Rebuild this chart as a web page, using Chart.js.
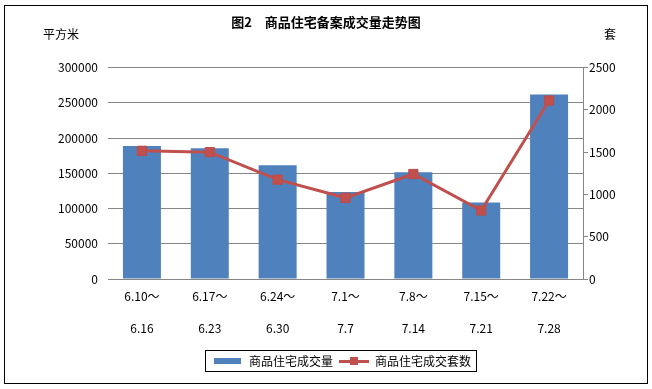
<!DOCTYPE html>
<html>
<head>
<meta charset="utf-8">
<script src="https://cdn.jsdelivr.net/npm/chart.js@4"></script>
<style>
body { margin: 0; background: #fff; }
</style>
</head>
<body>
<canvas id="trendChart" width="652" height="389"></canvas>
<script>
const weekStarts = ["6.10～", "6.17～", "6.24～", "7.1～", "7.8～", "7.15～", "7.22～"]
const weekEnds = ["6.16", "6.23", "6.30", "7.7", "7.14", "7.21", "7.28"]
const areaSold = [188600, 185700, 161400, 123300, 151400, 108600, 261900]
const unitsSold = [1516, 1500, 1175, 960, 1242, 810, 2111]

const blue = "#4F81BD"
const red = "#C0504D"
const gridGray = "#868686"
const cjk = "'Noto Sans CJK SC', 'Noto Sans', sans-serif"

// little legend swatches, drawn like the Excel ones
function makeSwatch(w, h, draw) {
	const c = document.createElement("canvas")
	c.width = w
	c.height = h
	draw(c.getContext("2d"))
	return c
}
const barSwatch = makeSwatch(27, 6, g => {
	g.fillStyle = blue
	g.fillRect(0, 0, 27, 6)
})
const lineSwatch = makeSwatch(30, 10, g => {
	g.fillStyle = red
	g.fillRect(0, 4, 30, 3)
	g.fillRect(11, 1, 8, 8)
})

const frame = {
	id: "frame",
	afterLayout(chart) {
		// the legend sits a bit right of centre in the original
		chart.legend.left += 16
		chart.legend.right += 16
	},
	afterDraw(chart) {
		const ctx = chart.ctx
		const area = chart.chartArea
		ctx.save()
		ctx.strokeStyle = "#000"
		ctx.lineWidth = 1
		ctx.strokeRect(4.5, 5.5, 643, 378)

		// axis unit labels above the two value axes
		ctx.fillStyle = "#000"
		ctx.font = "12px " + cjk
		ctx.textAlign = "center"
		ctx.textBaseline = "middle"
		ctx.fillText("平方米", area.left - 47, area.top - 33)
		ctx.fillText("套", area.right + 27, area.top - 33)

		// box round the legend
		const boxes = chart.legend.legendHitBoxes
		if (boxes && boxes.length) {
			const first = boxes[0]
			const last = boxes[boxes.length - 1]
			const cy = first.top + first.height / 2
			const x0 = Math.round(first.left) - 7.5
			const x1 = Math.round(last.left + last.width) + 5.5
			ctx.strokeRect(x0, Math.round(cy) - 10.5, x1 - x0, 21)
		}
		ctx.restore()
	}
}

new Chart(document.getElementById("trendChart"), {
	data: {
		labels: weekStarts.map((s, i) => [s, weekEnds[i]]),
		datasets: [
			{
				type: "line",
				label: "商品住宅成交套数",
				data: unitsSold,
				yAxisID: "y1",
				borderColor: red,
				backgroundColor: red,
				borderWidth: 3,
				pointStyle: "rect",
				pointRadius: 6.5,
				pointBackgroundColor: red,
				pointBorderColor: "#BE4B48",
				pointBorderWidth: 1,
				tension: 0,
				order: 0,
			},
			{
				type: "bar",
				label: "商品住宅成交量",
				data: areaSold,
				yAxisID: "y",
				backgroundColor: blue,
				categoryPercentage: 1,
				barPercentage: 0.56,
				order: 1,
			},
		],
	},
	options: {
		responsive: false,
		animation: false,
		devicePixelRatio: 1,
		layout: { padding: { left: 0, right: 0, top: 0, bottom: 12 } },
		plugins: {
			tooltip: { enabled: false },
			title: {
				display: true,
				text: "图2　商品住宅备案成交量走势图",
				color: "#000",
				font: { family: cjk, size: 13, weight: "bold", lineHeight: 1.2 },
				padding: { top: 14, bottom: 38 },
			},
			legend: {
				position: "bottom",
				labels: {
					usePointStyle: true,
					pointStyleWidth: 30,
					padding: 6,
					color: "#000",
					font: { family: cjk, size: 12 },
					generateLabels: () => [
						{ text: "商品住宅成交量", pointStyle: barSwatch, fillStyle: blue, strokeStyle: blue, lineWidth: 0, datasetIndex: 1, fontColor: "#000" },
						{ text: "商品住宅成交套数", pointStyle: lineSwatch, fillStyle: red, strokeStyle: red, lineWidth: 0, datasetIndex: 0, fontColor: "#000" },
					],
				},
			},
		},
		scales: {
			x: {
				grid: { drawOnChartArea: false, drawTicks: false },
				border: { display: true, color: gridGray },
				ticks: {
					color: "#000",
					padding: 1,
					maxRotation: 0,
					autoSkip: false,
					font: { family: cjk, size: 12, lineHeight: 2.667 },
				},
				afterFit: scale => { scale.height = 70 },
			},
			y: {
				position: "left",
				min: 0,
				max: 300000,
				grid: { color: gridGray, drawTicks: false },
				border: { display: false },
				ticks: {
					stepSize: 50000,
					color: "#000",
					padding: 10,
					font: { family: cjk, size: 12 },
					callback: v => String(v),
				},
				afterFit: scale => { scale.width = 108 },
			},
			y1: {
				position: "right",
				min: 0,
				max: 2500,
				grid: { drawOnChartArea: false, drawTicks: true, tickLength: 5, color: gridGray },
				border: { display: true, color: gridGray },
				ticks: {
					stepSize: 500,
					color: "#000",
					padding: 1,
					font: { family: cjk, size: 12 },
					callback: v => String(v),
				},
				afterFit: scale => { scale.width = 69 },
			},
		},
	},
	plugins: [frame],
})
</script>
</body>
</html>
